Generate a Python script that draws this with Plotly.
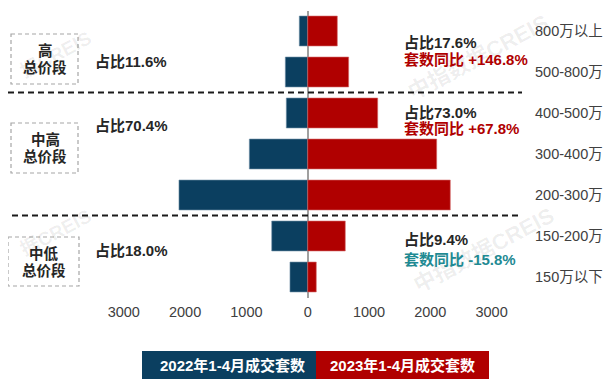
import plotly.graph_objects as go

categories = ["800万以上", "500-800万", "400-500万", "300-400万", "200-300万", "150-200万", "150万以下"]
sales_2022 = [137, 365, 349, 952, 2100, 587, 289]
sales_2023 = [483, 668, 1142, 2104, 2326, 613, 140]
series_names = ["2022年1-4月成交套数", "2023年1-4月成交套数"]
tick_values = [-3000, -2000, -1000, 0, 1000, 2000, 3000]
tick_labels = ["3000", "2000", "1000", "0", "1000", "2000", "3000"]

segments = [("高", "总价段"), ("中高", "总价段"), ("中低", "总价段")]
left_shares = ["占比11.6%", "占比70.4%", "占比18.0%"]
right_shares = ["占比17.6%", "占比73.0%", "占比9.4%"]
yoy_texts = ["套数同比 +146.8%", "套数同比 +67.8%", "套数同比 -15.8%"]

# page body has an 8px margin: draw in a 607x383 figure, offset all reference pixel coords by 8
OFF = 8
W, H = 615 - OFF, 391 - OFF
BLUE = "#0B3F60"
RED = "#B00000"
TEAL = "#1F8A93"
DARK = "#262626"
FONT = "Arial, 'Liberation Sans', 'Noto Sans CJK SC', sans-serif"

def px(x):
    return (x - OFF) / W

def py(y):
    return 1 - (y - OFF) / H

fig = go.Figure()
fig.add_trace(go.Bar(
    y=categories, x=[-v for v in sales_2022], orientation="h", name=series_names[0],
    marker=dict(color=BLUE, line=dict(color="#6F8FA6", width=0.6)),
    hoverinfo="skip",
))
fig.add_trace(go.Bar(
    y=categories, x=sales_2023, orientation="h", name=series_names[1],
    marker=dict(color=RED, line=dict(color="#D46A6A", width=0.6)),
    hoverinfo="skip",
))

x_end_px = 528
scale = 0.0613  # px per unit
zero_px = 307.7
xr = [-(zero_px - OFF) / scale, (x_end_px - zero_px) / scale]

shapes = []
annotations = []

def ann(x, y, text, size, color, bold=True, xanchor="center", angle=0):
    annotations.append(dict(
        x=px(x), y=py(y), xref="paper", yref="paper", text=text, showarrow=False,
        xanchor=xanchor, yanchor="middle", textangle=angle,
        font=dict(family=FONT, size=size, color=color, weight="bold" if bold else "normal"),
    ))

# watermarks
for (cx, cy) in [(478, 58), (483, 250)]:
    ann(cx, cy, "中指数据CREIS", 22, "rgba(0,0,0,0.07)", angle=-28)
for (cx, cy) in [(56, 54), (56, 232)]:
    ann(cx, cy, "据CREIS", 19, "rgba(0,0,0,0.07)", angle=-28)

# dashed separators
for (x0, yv) in [(6, 1.5), (12, 4.5)]:
    shapes.append(dict(type="line", xref="paper", yref="y", x0=max(px(x0), 0), x1=px(522), y0=yv, y1=yv,
                       line=dict(color="#1A1A1A", width=2, dash="6px,4px")))

# segment boxes
boxes = [(11, 34, 78, 84), (11, 123, 78, 173), (8, 237, 79, 286)]
for (x0, y0, x1, y1), (l1, l2) in zip(boxes, segments):
    shapes.append(dict(type="rect", xref="paper", yref="paper", x0=px(x0), x1=px(x1), y0=py(y0), y1=py(y1),
                       line=dict(color="#A6A6A6", width=1.2, dash="4px,3px"), fillcolor="rgba(0,0,0,0)"))
    cx = (x0 + x1) / 2 + 0.5
    cy = (y0 + y1) / 2
    ann(cx, cy - 8.5, l1, 14.5, DARK)
    ann(cx, cy + 8.5, l2, 14.5, DARK)

# left share labels
for t, yc in zip(left_shares, [61, 125, 251]):
    ann(93, yc, t, 15, DARK, xanchor="left")

# right share + yoy labels
yoy_colors = [RED, RED, TEAL]
for t, yc in zip(right_shares, [42, 112, 239]):
    ann(402, yc, t, 15, DARK, xanchor="left")
for t, yc, c in zip(yoy_texts, [59, 128, 260], yoy_colors):
    ann(402, yc, t, 15, c, xanchor="left")

# legend boxes
shapes.append(dict(type="rect", xref="paper", yref="paper", x0=px(142), x1=px(316), y0=py(351), y1=py(379),
                   fillcolor=BLUE, line=dict(width=0)))
shapes.append(dict(type="rect", xref="paper", yref="paper", x0=px(316), x1=px(489), y0=py(351), y1=py(379),
                   fillcolor=RED, line=dict(width=0)))
ann(232, 365, series_names[0], 15, "white")
ann(402, 365, series_names[1], 15, "white")

fig.update_layout(
    width=W, height=H,
    margin=dict(l=0, r=0, t=0, b=0),
    paper_bgcolor="white", plot_bgcolor="white",
    barmode="relative", bargap=0.27,
    showlegend=False,
    shapes=shapes, annotations=annotations,
    xaxis=dict(
        domain=[0, (x_end_px - OFF) / W], range=xr,
        tickvals=tick_values, ticktext=tick_labels,
        showgrid=False, zeroline=True, zerolinecolor="#A0A0A0", zerolinewidth=1.5,
        showline=False, ticks="", ticklabelstandoff=4,
        tickfont=dict(family=FONT, size=14.5, color="#404040"),
        fixedrange=True,
    ),
    yaxis=dict(
        domain=[py(297.5), py(10.5)],
        categoryorder="array", categoryarray=categories, autorange="reversed",
        side="right", showgrid=False, zeroline=False, showline=False, ticks="",
        ticklabelstandoff=6,
        tickfont=dict(family=FONT, size=14.5, color="#404040"),
        fixedrange=True,
    ),
)

fig.write_html("out.html")
